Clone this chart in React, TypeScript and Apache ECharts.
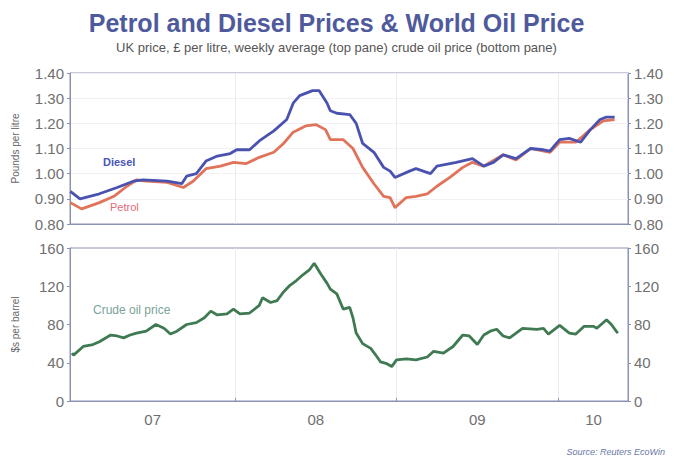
import React, { useEffect, useRef } from "react";
import * as echarts from "echarts";

// Time as fractional year
const dieselT = [2006.98, 2007.04, 2007.16, 2007.27, 2007.37, 2007.43, 2007.58, 2007.67, 2007.70, 2007.76, 2007.82, 2007.89, 2007.97, 2008.01, 2008.09, 2008.15, 2008.24, 2008.32, 2008.36, 2008.40, 2008.48, 2008.52, 2008.57, 2008.59, 2008.63, 2008.71, 2008.75, 2008.79, 2008.86, 2008.92, 2008.96, 2008.99, 2009.08, 2009.12, 2009.21, 2009.25, 2009.37, 2009.47, 2009.54, 2009.60, 2009.66, 2009.74, 2009.83, 2009.91, 2009.95, 2010.01, 2010.07, 2010.14, 2010.20, 2010.26, 2010.30, 2010.35];
const dieselV = [0.93, 0.90, 0.92, 0.945, 0.97, 0.975, 0.97, 0.96, 0.99, 1.00, 1.05, 1.07, 1.08, 1.095, 1.095, 1.13, 1.17, 1.215, 1.28, 1.31, 1.33, 1.33, 1.28, 1.25, 1.24, 1.235, 1.20, 1.12, 1.085, 1.025, 1.01, 0.985, 1.01, 1.02, 1.00, 1.03, 1.045, 1.06, 1.03, 1.045, 1.075, 1.06, 1.10, 1.095, 1.09, 1.135, 1.14, 1.125, 1.175, 1.215, 1.225, 1.225];

const petrolT = [2006.98, 2007.05, 2007.16, 2007.25, 2007.33, 2007.39, 2007.45, 2007.58, 2007.68, 2007.74, 2007.82, 2007.91, 2007.99, 2008.07, 2008.15, 2008.24, 2008.30, 2008.36, 2008.44, 2008.50, 2008.56, 2008.59, 2008.67, 2008.73, 2008.79, 2008.86, 2008.92, 2008.96, 2008.99, 2009.06, 2009.12, 2009.19, 2009.25, 2009.33, 2009.41, 2009.47, 2009.54, 2009.66, 2009.74, 2009.83, 2009.95, 2010.01, 2010.11, 2010.20, 2010.28, 2010.35];
const petrolV = [0.885, 0.86, 0.885, 0.91, 0.95, 0.975, 0.97, 0.965, 0.945, 0.97, 1.02, 1.03, 1.045, 1.04, 1.065, 1.085, 1.12, 1.165, 1.19, 1.195, 1.175, 1.135, 1.135, 1.10, 1.025, 0.96, 0.91, 0.905, 0.865, 0.905, 0.91, 0.92, 0.95, 0.985, 1.025, 1.045, 1.03, 1.075, 1.055, 1.10, 1.085, 1.125, 1.125, 1.175, 1.21, 1.215];

const crudeT = [2006.99, 2007.00, 2007.06, 2007.12, 2007.16, 2007.23, 2007.27, 2007.31, 2007.35, 2007.39, 2007.45, 2007.51, 2007.56, 2007.60, 2007.64, 2007.70, 2007.76, 2007.81, 2007.85, 2007.89, 2007.95, 2007.99, 2008.03, 2008.09, 2008.15, 2008.17, 2008.22, 2008.26, 2008.30, 2008.34, 2008.38, 2008.42, 2008.46, 2008.49, 2008.53, 2008.57, 2008.59, 2008.63, 2008.67, 2008.71, 2008.73, 2008.75, 2008.79, 2008.84, 2008.88, 2008.90, 2008.94, 2008.97, 2009.00, 2009.06, 2009.12, 2009.19, 2009.23, 2009.29, 2009.35, 2009.41, 2009.45, 2009.50, 2009.54, 2009.58, 2009.62, 2009.66, 2009.70, 2009.74, 2009.78, 2009.87, 2009.91, 2009.94, 2010.01, 2010.07, 2010.11, 2010.16, 2010.22, 2010.24, 2010.30, 2010.33, 2010.36, 2010.37];
const crudeV = [50, 48, 57, 59, 62, 69, 68, 66, 69, 71, 73, 80, 76, 70, 73, 80, 82, 87, 94, 90, 91, 96, 91, 92, 100, 108, 103, 105, 114, 121, 126, 132, 137, 144, 133, 123, 117, 112, 96, 98, 87, 71, 60, 55, 46, 41, 39, 36, 43, 44, 43, 46, 52, 50, 57, 69, 68, 59, 69, 73, 75, 68, 66, 71, 76, 75, 76, 70, 79, 71, 70, 78, 78, 76, 85, 80, 73, 71];

const yearTicks = [2008, 2009, 2010];
const yearLabelPos = [2007.49, 2008.5, 2009.5, 2010.22];
const yearLabelText = ["07", "08", "09", "10"];

const X_MIN = 2006.978;
const X_MAX = 2010.433;

const zip = (t: number[], v: number[]) => t.map((x, i) => [x, v[i]]);

const FONT = "Liberation Sans, Arial, sans-serif";
const AXIS_COLOR = "#8a92b4";
const LABEL_COLOR = "#707070";

export default function App() {
  const ref = useRef<HTMLDivElement>(null);
  useEffect(() => {
    if (!ref.current) return;
    const chart = echarts.init(ref.current, null, { renderer: "svg" });
    const yCommon = {
      axisLine: { show: true, lineStyle: { color: AXIS_COLOR, width: 1 } },
      axisTick: { show: true, length: 3, lineStyle: { color: AXIS_COLOR } },
      axisLabel: { color: LABEL_COLOR, fontSize: 15, fontFamily: FONT, margin: 6 },
      splitLine: { show: true, lineStyle: { color: "#f1f1f5", width: 1 } },
    };
    const xCommon = {
      type: "value",
      min: X_MIN,
      max: X_MAX,
      axisLine: { show: true, lineStyle: { color: AXIS_COLOR } },
      splitLine: { show: true, lineStyle: { color: "#eaeaf0" } },
    };
    chart.setOption({
      animation: false,
      backgroundColor: "#ffffff",
      title: {
        text: "Petrol and Diesel Prices & World Oil Price",
        subtext: "UK price, £ per litre, weekly average (top pane) crude oil price (bottom pane)",
        left: "center",
        top: 5,
        itemGap: 6,
        textStyle: { fontSize: 25, fontWeight: "bold", color: "#4f5a9c", fontFamily: FONT },
        subtextStyle: { fontSize: 13, color: "#555555", fontFamily: FONT },
      },
      grid: [
        { left: 70, right: 45, top: 73, height: 151, show: true, borderColor: AXIS_COLOR, borderWidth: 1 },
        { left: 70, right: 45, top: 248, height: 153, show: true, borderColor: AXIS_COLOR, borderWidth: 1 },
      ],
      xAxis: [
        {
          ...xCommon,
          gridIndex: 0,
          axisTick: { show: false, customValues: yearTicks },
          axisLabel: { show: false, customValues: yearTicks },
        },
        {
          ...xCommon,
          gridIndex: 1,
          axisTick: { show: true, inside: true, length: 3, customValues: yearTicks, lineStyle: { color: AXIS_COLOR } },
          axisLabel: {
            show: true,
            customValues: yearLabelPos,
            color: LABEL_COLOR,
            fontSize: 15,
            fontFamily: FONT,
            margin: 11,
            formatter: (v: number) => {
              const i = yearLabelPos.findIndex((p) => Math.abs(p - v) < 0.001);
              return i >= 0 ? yearLabelText[i] : "";
            },
          },
        },
      ],
      yAxis: [
        {
          ...yCommon,
          gridIndex: 0,
          type: "value",
          min: 0.8,
          max: 1.4,
          interval: 0.1,
          position: "left",
          name: "Pounds per litre",
          nameLocation: "middle",
          nameGap: 50,
          nameTextStyle: { fontSize: 10, color: "#666", fontFamily: FONT },
          axisLabel: { ...yCommon.axisLabel, formatter: (v: number) => v.toFixed(2) },
        },
        {
          ...yCommon,
          gridIndex: 0,
          type: "value",
          min: 0.8,
          max: 1.4,
          interval: 0.1,
          position: "right",
          splitLine: { show: false },
          axisLabel: { ...yCommon.axisLabel, formatter: (v: number) => v.toFixed(2) },
        },
        {
          ...yCommon,
          gridIndex: 1,
          type: "value",
          min: 0,
          max: 160,
          interval: 40,
          position: "left",
          name: "$s per barrel",
          nameLocation: "middle",
          nameGap: 50,
          nameTextStyle: { fontSize: 10, color: "#666", fontFamily: FONT },
          splitLine: { show: false },
        },
        {
          ...yCommon,
          gridIndex: 1,
          type: "value",
          min: 0,
          max: 160,
          interval: 40,
          position: "right",
          splitLine: { show: false },
        },
      ],
      series: [
        {
          name: "Petrol",
          type: "line",
          xAxisIndex: 0,
          yAxisIndex: 0,
          data: zip(petrolT, petrolV),
          showSymbol: false,
          lineStyle: { color: "#e0735a", width: 2.8 },
        },
        {
          name: "Diesel",
          type: "line",
          xAxisIndex: 0,
          yAxisIndex: 0,
          data: zip(dieselT, dieselV),
          showSymbol: false,
          lineStyle: { color: "#4a52b0", width: 2.8 },
        },
        {
          name: "Crude oil price",
          type: "line",
          xAxisIndex: 1,
          yAxisIndex: 2,
          data: zip(crudeT, crudeV),
          showSymbol: false,
          lineStyle: { color: "#3f7a52", width: 2.8 },
        },
      ],
      graphic: [
        { type: "text", left: 103, top: 156, style: { text: "Diesel", fill: "#4a55b8", font: `bold 11px ${FONT}` } },
        { type: "text", left: 110, top: 201, style: { text: "Petrol", fill: "#e06a78", font: `11px ${FONT}` } },
        { type: "text", left: 93, top: 304, style: { text: "Crude oil price", fill: "#7aa39a", font: `12px ${FONT}` } },
        { type: "text", right: 8, top: 447, style: { text: "Source: Reuters EcoWin", fill: "#6a78a8", font: `italic 9px ${FONT}` } },
      ],
    });
    return () => chart.dispose();
  }, []);
  return <div ref={ref} style={{ width: 673, height: 462, position: "absolute", left: 0, top: 0 }} />;
}
